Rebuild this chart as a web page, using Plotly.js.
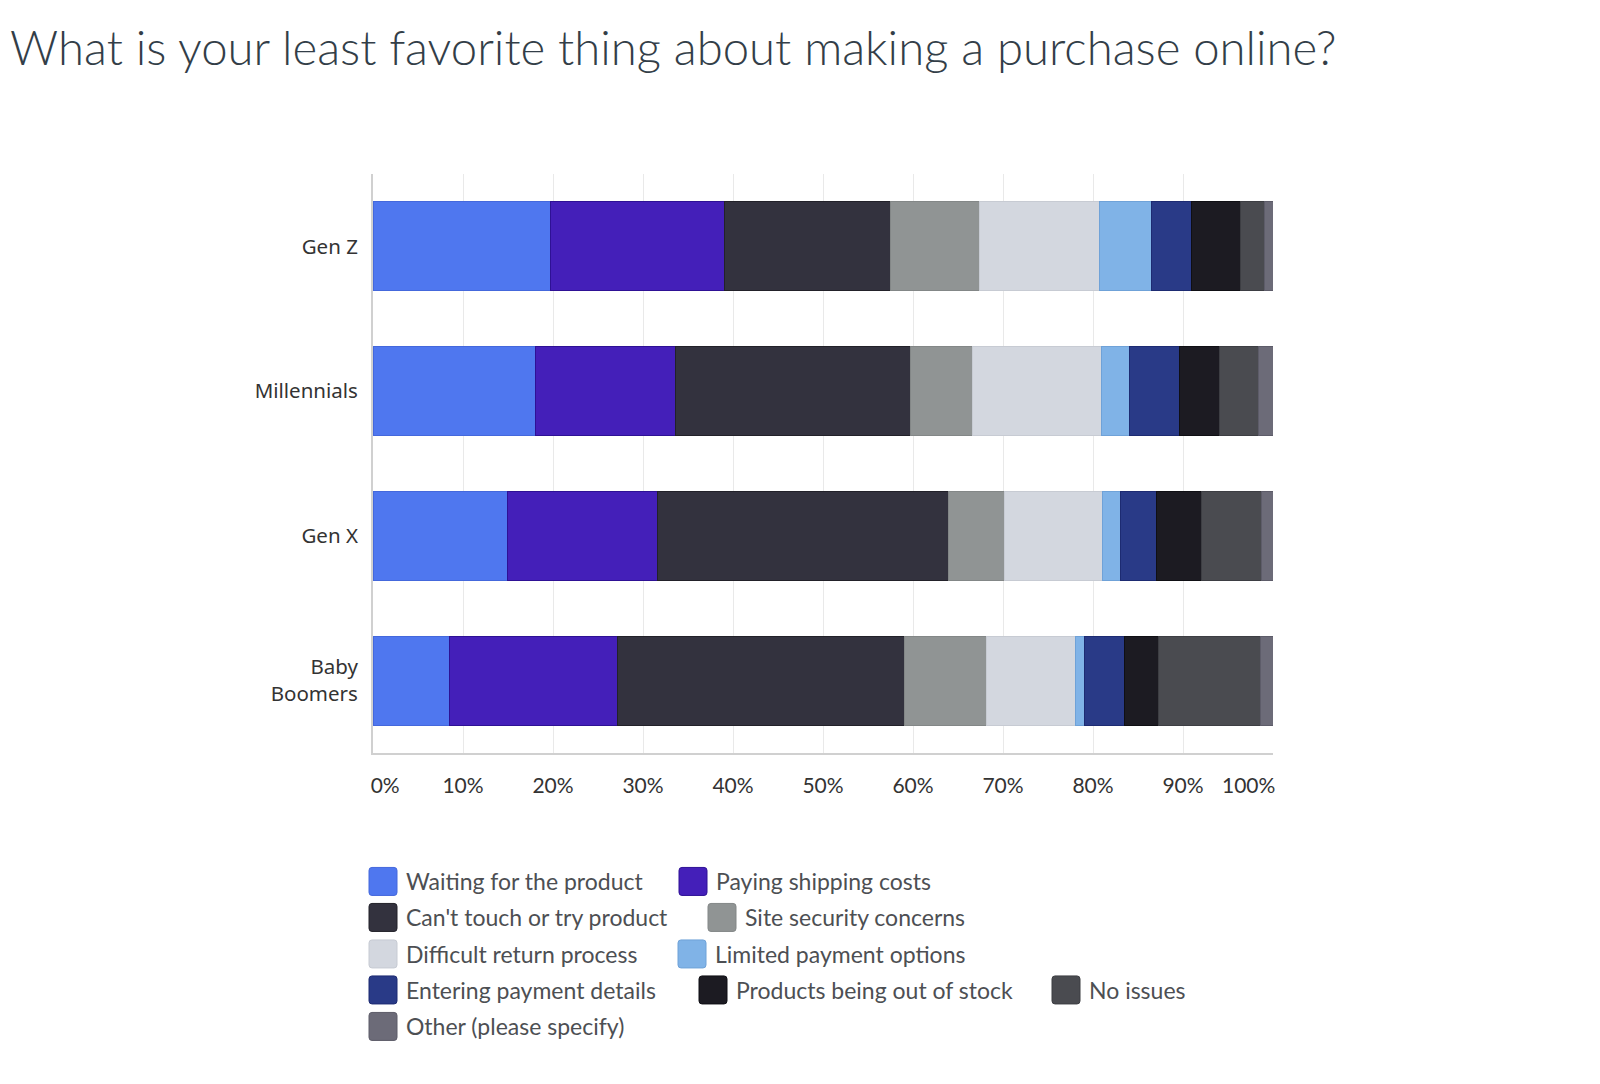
<!DOCTYPE html>
<html><head><meta charset="utf-8">
<script src="https://cdn.plot.ly/plotly-3.0.1.min.js"></script>
<style>html,body{margin:0;padding:0;background:#fff}#chart{width:1600px;height:1084px}</style>
</head><body><div id="chart"></div>
<script>
// ---- data ----
const generations = ['Gen Z', 'Millennials', 'Gen X', 'Baby<br>Boomers'];
const answers = ['Waiting for the product', 'Paying shipping costs', "Can't touch or try product",
  'Site security concerns', 'Difficult return process', 'Limited payment options',
  'Entering payment details', 'Products being out of stock', 'No issues', 'Other (please specify)'];
const waitingForProduct = [19.7, 18.1, 14.9, 8.5];
const payingShipping    = [19.3, 15.5, 16.7, 18.7];
const cantTouch         = [18.5, 26.1, 32.3, 31.9];
const siteSecurity      = [9.9, 6.9, 6.3, 9.1];
const difficultReturn   = [13.3, 14.3, 10.8, 9.8];
const limitedPayment    = [5.8, 3.2, 2.1, 1.1];
const enteringPayment   = [4.4, 5.5, 4.0, 4.4];
const outOfStock        = [5.5, 4.5, 5.0, 3.8];
const noIssues          = [2.7, 4.3, 6.6, 11.3];
const otherSpecify      = [0.9, 1.6, 1.3, 1.4];
const tickValues = [0, 10, 20, 30, 40, 50, 60, 70, 80, 90, 100];
const tickLabels = ['0%', '10%', '20%', '30%', '40%', '50%', '60%', '70%', '80%', '90%', '100%'];

// ---- styles ----
const series = [waitingForProduct, payingShipping, cantTouch, siteSecurity, difficultReturn,
  limitedPayment, enteringPayment, outOfStock, noIssues, otherSpecify];
const fillColors = ['#4f77ef', '#441fb9', '#33323e', '#909494', '#d3d7df', '#80b3e7', '#293a87', '#1c1b22', '#4a4b50', '#6c6b78'];
const edgeColors = ['#4468dc', '#2e1195', '#222129', '#838787', '#c7cbd3', '#6fa2d8', '#1d2b72', '#0f0f14', '#3d3e43', '#5d5c69'];

// plot area in pixels
const PL = 373, PR = 1273, PT = 174, PB = 753;
const px2x = p => (p - PL) / (PR - PL);
const px2y = p => (PB - p) / (PB - PT);
// legend swatch left edge & row centre (pixels)
const legendSpots = [[369, 881.5], [679, 881.5], [369, 917.5], [708, 917.5], [369, 954], [678, 954],
  [369, 990], [699, 990], [1052, 990], [369, 1026.5]];
const ITEMW = 36; // legend itemwidth -> symbol centre at 23, text at 46
const SW_OFF = (ITEMW + 10) / 2 - 14;

const legendFont = {family: 'Lato, "Open Sans", sans-serif', size: 23, color: '#4d4f53'};

const traces = answers.map((name, i) => ({
  type: 'bar', orientation: 'h', name: name,
  y: generations, x: series[i],
  marker: {color: fillColors[i], line: {color: edgeColors[i], width: 1}},
  legend: i === 0 ? 'legend' : 'legend' + (i + 1),
  hoverinfo: 'name+x'
}));

const shownTicks = tickLabels.map((t, i) =>
  i === 0 ? '\u2007\u2007' + t : (i === tickLabels.length - 1 ? t + '\u2007\u2007\u2007\u2007' : t));

const layout = {
  width: 1600, height: 1084,
  paper_bgcolor: '#ffffff', plot_bgcolor: '#ffffff',
  margin: {l: PL, r: 1600 - PR, t: PT, b: 1084 - PB, autoexpand: false},
  barmode: 'stack', bargap: 0.385,
  title: {
    text: 'What is your least favorite thing about making a purchase online?',
    xref: 'container', yref: 'container', x: 10 / 1600, xanchor: 'left',
    y: 1 - 48 / 1084, yanchor: 'middle',
    font: {family: 'Lato, "Open Sans", sans-serif', size: 47.3, weight: 300, color: '#333e48'}
  },
  xaxis: {
    range: [0, 100], tickvals: tickValues, ticktext: shownTicks,
    showgrid: true, gridcolor: '#e9e9e9', gridwidth: 1, zeroline: false,
    showline: true, linecolor: '#d0d0d0', linewidth: 2,
    ticks: '', ticklabelstandoff: 13,
    tickfont: {family: 'Lato, "Open Sans", sans-serif', size: 21, color: '#333333'},
    fixedrange: true
  },
  yaxis: {
    type: 'category', categoryorder: 'array', categoryarray: generations,
    range: [3.5, -0.5], showgrid: false, zeroline: false,
    showline: true, linecolor: '#d0d0d0', linewidth: 2,
    ticks: '', ticklabelstandoff: 9,
    tickfont: {family: '"Noto Sans", "Open Sans", sans-serif', size: 20.5, color: '#333333'},
    fixedrange: true
  },
  showlegend: true
};

legendSpots.forEach((s, i) => {
  const key = i === 0 ? 'legend' : 'legend' + (i + 1);
  layout[key] = {
    orientation: 'h', x: px2x(s[0] - SW_OFF), xanchor: 'left',
    y: px2y(s[1]), yanchor: 'middle',
    itemwidth: ITEMW, bgcolor: 'rgba(0,0,0,0)', borderwidth: 0,
    font: legendFont, itemclick: false, itemdoubleclick: false
  };
});

Plotly.newPlot('chart', traces, layout, {displayModeBar: false}).then(gd => {
  const r = 3, h = 14, w = 14;
  const d = `M${-w + r},${-h}H${w - r}A${r},${r} 0 0 1 ${w},${-h + r}V${h - r}A${r},${r} 0 0 1 ${w - r},${h}` +
            `H${-w + r}A${r},${r} 0 0 1 ${-w},${h - r}V${-h + r}A${r},${r} 0 0 1 ${-w + r},${-h}Z`;
  gd.querySelectorAll('.legendpoints path').forEach(p => p.setAttribute('d', d));
});
</script>
</body></html>
